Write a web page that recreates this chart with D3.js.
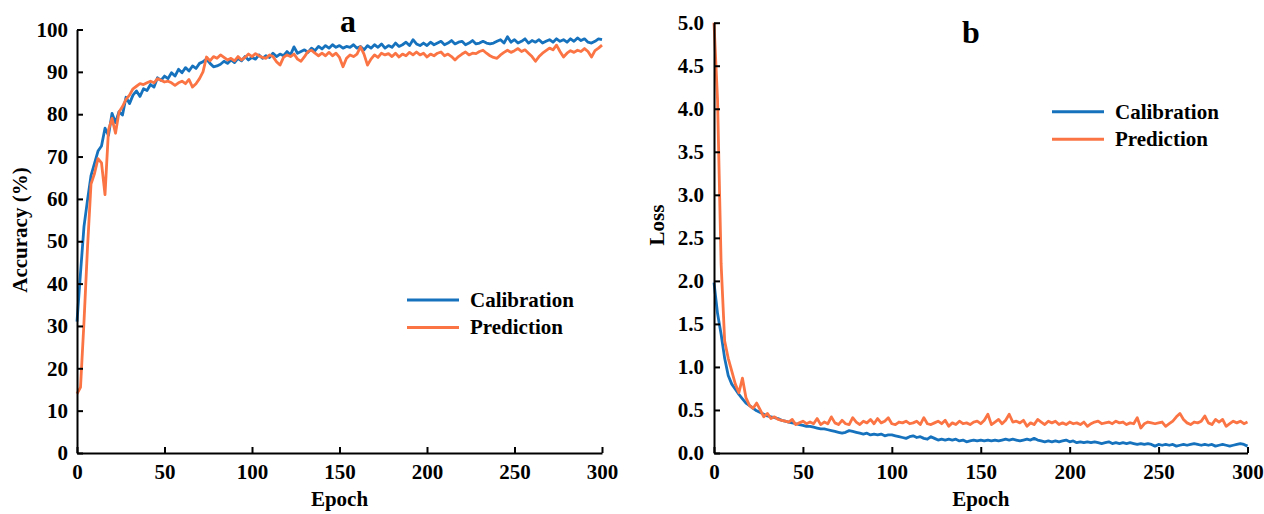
<!DOCTYPE html>
<html>
<head>
<meta charset="utf-8">
<script src="https://cdn.jsdelivr.net/npm/d3@7"></script>
<style>
  body { margin: 0; background: #fff; }
  text { font-family: "Liberation Serif", "Times New Roman", serif; font-weight: bold; fill: #000; }
</style>
</head>
<body>
<svg width="1264" height="514"></svg>
<script>
// epochs sampled every 2
var epochs = d3.range(0, 301, 2)

var accCal = [
  31, 42.5, 53.5, 59.7, 65.5, 68.4, 71.3, 72.5, 76.7, 75,
  80.2, 78, 80.6, 79.8, 84, 82.5, 84.5, 85.5, 84.2, 86,
  85.6, 87, 86.4, 88.6, 88, 89, 88.4, 89.8, 89, 90.6,
  89.8, 91, 90.2, 91.4, 90.8, 92, 92.4, 93, 92, 91.2,
  91.4, 91.8, 92.5, 92, 92.8, 92.2, 93.2, 92.6, 93.6, 92.8,
  93.4, 93, 94, 93.2, 93.8, 93.4, 94.4, 93.6, 94.2, 93.8,
  94.8, 94, 95.9, 94.4, 94.8, 95.2, 94.6, 95.6, 95, 96,
  95.4, 96.2, 95.6, 96.4, 95.8, 96.2, 95.6, 96, 95.8, 96.4,
  95.6, 96, 95.2, 96.2, 95.6, 96.4, 95.8, 96.6, 95.6, 96.2,
  95.8, 96.8, 96, 96.4, 97, 96.2, 97.6, 96.6, 96.2, 96.8,
  96.2, 97, 96.4, 96.8, 97.2, 96.4, 96.8, 97.4, 96.6, 97,
  97.2, 96.4, 96.8, 97.4, 96.6, 96.8, 97.2, 96.8, 96.6, 96.8,
  97.2, 97.6, 96.8, 98.3, 97, 97.6, 96.8, 97.2, 97.8, 96.8,
  97.4, 97, 97.6, 96.8, 97.2, 97.6, 97, 97.8, 97.2, 97.6,
  97, 97.8, 97.2, 98, 97.4, 97.8, 97, 96.8, 97.2, 97.8,
  97.6
]

var accPred = [
  14, 15.5, 31, 48.5, 63.5, 66, 69.5, 68.5, 61, 76.3,
  79, 75.5, 80.5, 81.8, 83.5, 84.5, 86, 86.6, 87.2, 87,
  87.4, 87.8, 87.4, 88.4, 88, 87.6, 87.8, 87.4, 86.8, 87.4,
  87.8, 87.2, 88.2, 86.4, 87.2, 88.4, 90, 93.5, 92.6, 93.6,
  93.2, 94, 93.4, 92.8, 93.2, 92.6, 93.6, 92.8, 93.4, 94.2,
  93.6, 94.3, 93.8, 93.4, 93.2, 94, 93.6, 92.4, 91.6, 93.4,
  94, 93.6, 94.2, 93, 92.5, 93.6, 94.8, 95.1, 94.4, 93.8,
  94.4, 93.8, 94.6, 93.8, 94.4, 93.4, 91.2, 93.2, 94, 93.6,
  94.2, 95.9, 94.2, 91.6, 93, 94, 93.4, 94.4, 94, 94.3,
  93.6, 94.4, 93.5, 94.2, 93.8, 94.6, 94, 94.7, 94, 94.4,
  93.5, 94.2, 93.8, 94.4, 94.7, 93.8, 94.2, 93.6, 92.8, 93.6,
  94.2, 94.7, 94, 94.4, 94.3, 94.8, 95.1, 94.4, 93.8, 93.4,
  93.2, 94, 94.6, 95.1, 94.6, 95, 95.5, 94.8, 95.2, 94.4,
  93.6, 92.5, 93.6, 94.4, 95, 95.6, 95.2, 96.3, 94.8, 93.5,
  94.4, 95, 94.6, 95.1, 94.8, 95.5, 94.8, 93.5, 95, 95.6,
  96.3
]

var lossCal = [
  1.98, 1.62, 1.38, 1.1, 0.9, 0.8, 0.74, 0.68, 0.63, 0.58,
  0.55, 0.52, 0.49, 0.47, 0.45, 0.43, 0.42, 0.41, 0.40, 0.38,
  0.37, 0.36, 0.35, 0.34, 0.33, 0.32, 0.31, 0.31, 0.30, 0.29,
  0.28, 0.28, 0.27, 0.26, 0.25, 0.24, 0.23, 0.24, 0.26, 0.25,
  0.24, 0.23, 0.22, 0.23, 0.21, 0.22, 0.21, 0.22, 0.2, 0.21,
  0.21, 0.2, 0.19, 0.18, 0.17, 0.19, 0.2, 0.18, 0.19, 0.17,
  0.16, 0.19, 0.17, 0.15, 0.16, 0.15, 0.16, 0.15, 0.16, 0.14,
  0.15, 0.13, 0.14, 0.15, 0.14, 0.15, 0.14, 0.15, 0.14, 0.15,
  0.14, 0.15, 0.16, 0.15, 0.16, 0.15, 0.14, 0.15, 0.16, 0.15,
  0.17, 0.15, 0.14, 0.13, 0.14, 0.13, 0.14, 0.13, 0.14, 0.15,
  0.13, 0.14, 0.12, 0.13, 0.12, 0.13, 0.12, 0.13, 0.12, 0.11,
  0.12, 0.13, 0.11, 0.12, 0.11, 0.12, 0.11, 0.12, 0.11, 0.1,
  0.11, 0.1, 0.11, 0.1, 0.08, 0.1, 0.09, 0.1, 0.09, 0.1,
  0.08, 0.09, 0.1, 0.09, 0.1, 0.11, 0.1, 0.09, 0.1, 0.09,
  0.1, 0.08, 0.09, 0.1, 0.09, 0.08, 0.09, 0.1, 0.11, 0.1,
  0.08
]

var lossPred = [
  5.0, 4.1, 2.2, 1.3, 1.1, 0.95, 0.8, 0.7, 0.87, 0.64,
  0.55, 0.52, 0.58, 0.5, 0.42, 0.46, 0.4, 0.42, 0.39, 0.38,
  0.37, 0.36, 0.39, 0.33, 0.35, 0.37, 0.34, 0.36, 0.34, 0.4,
  0.33, 0.36, 0.34, 0.42, 0.35, 0.33, 0.38, 0.34, 0.33, 0.41,
  0.36, 0.33, 0.37, 0.35, 0.39, 0.34, 0.4, 0.35, 0.37, 0.41,
  0.34, 0.33, 0.36, 0.35, 0.37, 0.34, 0.35, 0.37, 0.33, 0.41,
  0.34, 0.33, 0.35, 0.37, 0.34, 0.38, 0.31, 0.35, 0.33, 0.37,
  0.34, 0.35, 0.33, 0.36, 0.37, 0.34, 0.38, 0.45, 0.33, 0.36,
  0.39, 0.34, 0.38, 0.45, 0.36, 0.37, 0.35, 0.38, 0.31, 0.35,
  0.33, 0.39, 0.36, 0.33, 0.37, 0.35, 0.37, 0.33, 0.35, 0.33,
  0.36, 0.34, 0.35, 0.33, 0.36, 0.31, 0.34, 0.36, 0.37, 0.34,
  0.35, 0.36, 0.34, 0.37, 0.35, 0.36, 0.33, 0.35, 0.34, 0.41,
  0.29, 0.34, 0.36, 0.35, 0.34, 0.35, 0.36, 0.31, 0.34, 0.37,
  0.42, 0.46, 0.39, 0.35, 0.33, 0.36, 0.35, 0.37, 0.43, 0.35,
  0.33, 0.39, 0.36, 0.39, 0.31, 0.34, 0.37, 0.35, 0.37, 0.34,
  0.36
]

var seriesNames = ["Calibration", "Prediction"]
var colors = ["#1772BD", "#FA7444"]

var svg = d3.select("svg")

function panel(opt) {
  var x = d3.scaleLinear().domain([0, 300]).range([opt.left, opt.right])
  var y = d3.scaleLinear().domain(opt.yDomain).range([453, opt.top])
  var g = svg.append("g")

  var line = d3.line().x((d, i) => x(epochs[i])).y(d => y(d))
  opt.series.forEach((s, k) => {
    g.append("path")
      .datum(s)
      .attr("fill", "none")
      .attr("stroke", colors[k])
      .attr("stroke-width", 2.8)
      .attr("stroke-linejoin", "round")
      .attr("d", line)
  })

  var xAxis = g.append("g")
    .attr("transform", "translate(0,453)")
    .call(d3.axisBottom(x).tickValues(d3.range(0, 301, 50)).tickSizeInner(-6).tickSizeOuter(0).tickPadding(11))
  var yAxis = g.append("g")
    .attr("transform", "translate(" + opt.left + ",0)")
    .call(d3.axisLeft(y).tickValues(opt.yTicks).tickFormat(opt.fmt).tickSizeInner(-6).tickSizeOuter(0).tickPadding(opt.yPad))

  ;[xAxis, yAxis].forEach(a => {
    a.select(".domain").attr("stroke", "#000").attr("stroke-width", 2)
    a.selectAll(".tick line").attr("stroke", "#000").attr("stroke-width", 2)
    a.selectAll(".tick text").style("font-family", '"Liberation Serif", serif')
      .style("font-weight", "bold").style("font-size", "21px").attr("fill", "#000")
  })

  g.append("text")
    .attr("x", (opt.left + opt.right) / 2).attr("y", 506)
    .attr("text-anchor", "middle").style("font-size", "21px")
    .text("Epoch")

  g.append("text")
    .attr("transform", "translate(" + opt.ylabX + "," + opt.ylabY + ") rotate(-90)")
    .attr("text-anchor", "middle").style("font-size", "21px")
    .text(opt.ylabel)

  g.append("text")
    .attr("x", opt.titleX).attr("y", opt.titleY)
    .attr("text-anchor", "middle").style("font-size", "32px")
    .text(opt.title)

  seriesNames.forEach((n, k) => {
    var ly = opt.legY + k * 27.5
    g.append("line")
      .attr("x1", opt.legX).attr("x2", opt.legX + 52)
      .attr("y1", ly).attr("y2", ly)
      .attr("stroke", colors[k]).attr("stroke-width", 3)
    g.append("text")
      .attr("x", opt.legX + 63).attr("y", ly).attr("dy", "0.33em")
      .style("font-size", "21px")
      .text(n)
  })
}

panel({
  left: 77, right: 602, top: 29.5,
  yDomain: [0, 100], yTicks: d3.range(0, 101, 10), fmt: d3.format("d"), yPad: 9,
  series: [accCal, accPred],
  ylabel: "Accuracy (%)", ylabX: 27, ylabY: 230,
  title: "a", titleX: 348, titleY: 32,
  legX: 407, legY: 300
})

panel({
  left: 714, right: 1247.5, top: 22.7,
  yDomain: [0, 5], yTicks: d3.range(0, 5.01, 0.5), fmt: d3.format(".1f"), yPad: 10,
  series: [lossCal, lossPred],
  ylabel: "Loss", ylabX: 664, ylabY: 225,
  title: "b", titleX: 971, titleY: 43,
  legX: 1052, legY: 111.7
})
</script>
</body>
</html>
